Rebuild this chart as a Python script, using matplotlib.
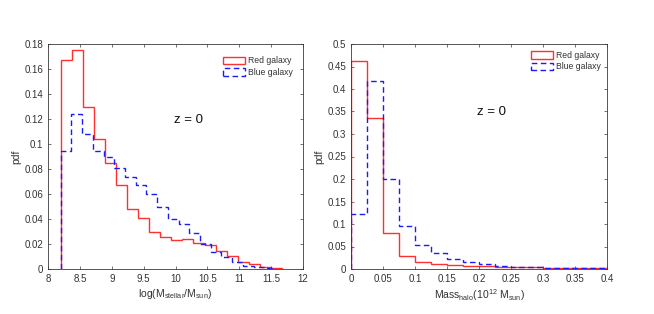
import matplotlib
matplotlib.use('Agg')
import matplotlib.pyplot as plt
import matplotlib.patches as mpatches
from matplotlib.ticker import FuncFormatter
import numpy as np

plt.rcParams['font.family'] = ['Liberation Sans', 'DejaVu Sans']
plt.rcParams['mathtext.fontset'] = 'custom'
plt.rcParams['mathtext.rm'] = 'Liberation Sans'
plt.rcParams['mathtext.it'] = 'Liberation Sans:italic'

# Stellar mass histograms (per-bin probability)
stellar_red_edges = np.linspace(8.2, 11.67, 21)
stellar_red = [0.167, 0.175, 0.130, 0.104, 0.0845, 0.067, 0.048, 0.041, 0.030, 0.026,
               0.023, 0.0237, 0.021, 0.0192, 0.0147, 0.0104, 0.0059, 0.0037, 0.0019, 0.0005]
stellar_blue_edges = np.linspace(8.2, 11.56, 21)
stellar_blue = [0.0947, 0.1237, 0.108, 0.0947, 0.0893, 0.0805, 0.0739, 0.0672, 0.060, 0.050,
                0.040, 0.0357, 0.0285, 0.020, 0.014, 0.0093, 0.0053, 0.0024, 0.0013, 0.0005]

# Halo mass histograms
halo_edges = np.linspace(0.0, 0.4, 17)
halo_red = [0.462, 0.335, 0.080, 0.030, 0.015, 0.012, 0.0095, 0.0075, 0.0065, 0.005,
            0.004, 0.0035, 0.003, 0.003, 0.0028, 0.0028]
halo_blue = [0.122, 0.418, 0.201, 0.0957, 0.0534, 0.035, 0.0215, 0.0148, 0.0104, 0.0075,
             0.005, 0.004, 0.003, 0.0025, 0.002, 0.002]

RED = '#ff3030'
BLUE = '#1a1aff'
AX_COL = '#3a3a3a'
TXT_COL = '#333333'
DASH = (0, (4, 2.5))


def style_axes(ax):
    for s in ax.spines.values():
        s.set_color(AX_COL)
        s.set_linewidth(0.6)
    ax.tick_params(direction='in', length=2.5, width=0.5, colors=AX_COL,
                   labelcolor=TXT_COL, labelsize=7, top=True, right=True, pad=3.5)
    ax.xaxis.set_major_formatter(FuncFormatter(lambda v, p: f'{v:g}'))
    ax.yaxis.set_major_formatter(FuncFormatter(lambda v, p: f'{v:g}'))


def add_legend(ax, anchor):
    h_red = mpatches.Patch(facecolor='white', edgecolor=RED, lw=1.0)
    h_blue = mpatches.Patch(facecolor='white', edgecolor=BLUE, lw=1.0, linestyle=DASH)
    leg = ax.legend([h_red, h_blue], ['Red galaxy', 'Blue galaxy'], loc='upper left',
                    bbox_to_anchor=anchor, frameon=False, fontsize=6.2, borderpad=0,
                    borderaxespad=0, handlelength=2.6, handleheight=0.95,
                    handletextpad=0.3, labelspacing=0.3)
    for t in leg.get_texts():
        t.set_color(TXT_COL)


fig = plt.figure(figsize=(6.54, 3.14), dpi=100)
ax1 = fig.add_axes([48 / 654, 45 / 314, 255 / 654, 225 / 314])
ax2 = fig.add_axes([351 / 654, 45 / 314, 256 / 654, 225 / 314])

ax1.stairs(stellar_red, stellar_red_edges, baseline=0, color=RED, lw=1.0)
ax1.stairs(stellar_blue, stellar_blue_edges, baseline=0, color=BLUE, lw=1.0, linestyle=DASH)
ax1.set_xlim(8, 12)
ax1.set_ylim(0, 0.18)
ax1.set_xticks(np.arange(8, 12.01, 0.5))
ax1.set_yticks(np.arange(0, 0.181, 0.02))
style_axes(ax1)
ax1.set_xlabel(r'log(M$_{\mathrm{stellar}}$/M$_{\mathrm{sun}}$)', fontsize=7.5,
               labelpad=2.5, color=TXT_COL)
ax1.set_ylabel('pdf', fontsize=7.5, labelpad=2, color=TXT_COL)
ax1.text(10.21, 0.119, 'z = 0', fontsize=9.5, ha='center', va='center', color='#111111')
add_legend(ax1, (0.686, 0.945))

ax2.stairs(halo_red, halo_edges, baseline=0, color=RED, lw=1.0)
ax2.stairs(halo_blue, halo_edges, baseline=0, color=BLUE, lw=1.0, linestyle=DASH)
ax2.set_xlim(0, 0.4)
ax2.set_ylim(0, 0.5)
ax2.set_xticks(np.arange(0, 0.401, 0.05))
ax2.set_yticks(np.arange(0, 0.501, 0.05))
style_axes(ax2)
ax2.set_xlabel(r'Mass$_{\mathrm{halo}}$(10$^{12}$ M$_{\mathrm{sun}}$)', fontsize=7.5,
               labelpad=2.5, color=TXT_COL)
ax2.set_ylabel('pdf', fontsize=7.5, labelpad=2, color=TXT_COL)
ax2.text(0.220, 0.349, 'z = 0', fontsize=9.5, ha='center', va='center', color='#111111')
add_legend(ax2, (0.703, 0.97))

fig.savefig('out.png', dpi=100)
